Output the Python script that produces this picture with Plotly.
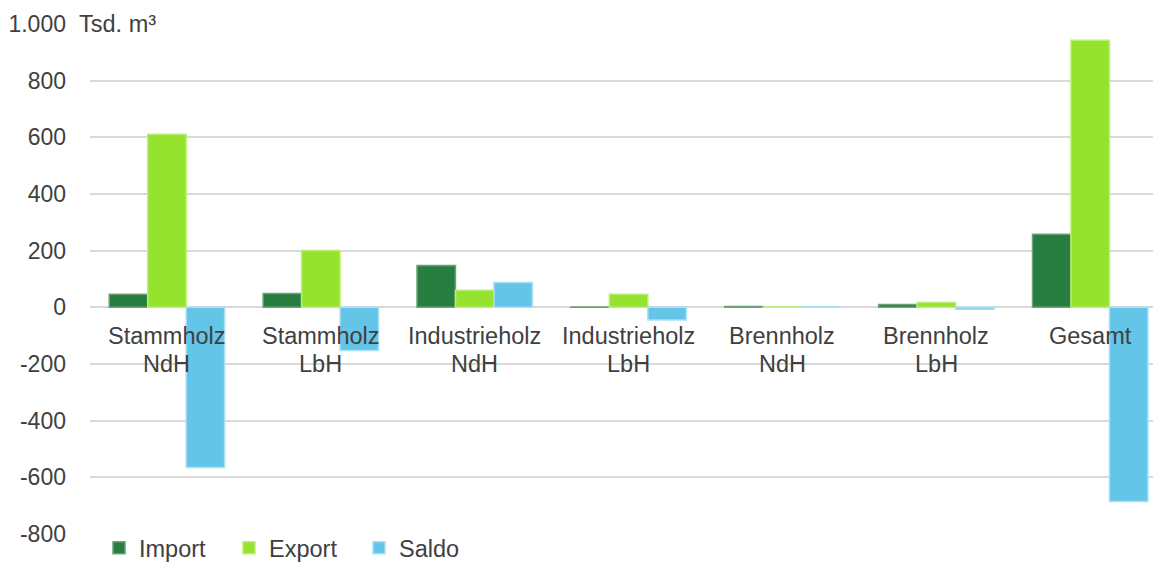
import plotly.graph_objects as go

categories = [("Stammholz", "NdH"), ("Stammholz", "LbH"), ("Industrieholz", "NdH"),
              ("Industrieholz", "LbH"), ("Brennholz", "NdH"), ("Brennholz", "LbH"), ("Gesamt", "")]
import_vals = [46, 49, 148, 1, 3, 10, 258]
export_vals = [611, 201, 60, 46, 1, 17, 943]
saldo_vals = [-565, -152, 88, -45, 2, -7, -685]
y_ticks = [-800, -600, -400, -200, 0, 200, 400, 600, 800, 1000]
y_labels = ["-800", "-600", "-400", "-200", "0", "200", "400", "600", "800", "1.000"]

FONT = "Liberation Sans, Arial, sans-serif"
TXT = "#404040"
FS = 23.5

x_idx = list(range(len(categories)))

fig = go.Figure()
series = [
    ("Import", import_vals, "#287d40", "#6aa37a"),
    ("Export", export_vals, "#95e22f", "#b9ef75"),
    ("Saldo", saldo_vals, "#63c5e8", "#a9e0f4"),
]
for name, vals, col, edge in series:
    fig.add_trace(go.Bar(
        x=x_idx, y=vals, name=name,
        marker=dict(color=col, line=dict(color=edge, width=1.5)),
    ))

# category labels sit just below the zero line, two lines each
for i, (top, bottom) in enumerate(categories):
    fig.add_annotation(x=i, y=0, xref="x", yref="y", text=top, showarrow=False,
                       yanchor="top", yshift=-14, font=dict(size=FS, color=TXT, family=FONT))
    if bottom:
        fig.add_annotation(x=i, y=0, xref="x", yref="y", text=bottom, showarrow=False,
                           yanchor="top", yshift=-41.5, font=dict(size=FS, color=TXT, family=FONT))

fig.add_annotation(x=0, y=1, xref="x domain", yref="y domain", text="Tsd. m³", showarrow=False,
                   xanchor="left", yanchor="middle", xshift=-13,
                   font=dict(size=FS, color=TXT, family=FONT))

# page body has an 8px margin, so the figure is 8px smaller and everything shifted by it
W, H = 1153, 555
TOP = 16
PH = H - TOP
fig.update_layout(
    width=W, height=H,
    barmode="group", bargap=0.25, bargroupgap=0,
    plot_bgcolor="white", paper_bgcolor="white",
    font=dict(family=FONT, size=FS, color=TXT),
    margin=dict(t=TOP, l=82, r=0, b=0, autoexpand=False),
    xaxis=dict(range=[-0.5, 6.46], showticklabels=False, showgrid=False,
               zeroline=False, showline=False, automargin=False),
    yaxis=dict(range=[-800, 1000], tickvals=y_ticks, ticktext=y_labels,
               domain=[29 / PH, 1], automargin=False,
               showgrid=True, gridcolor="#d9d9d9", gridwidth=1.5,
               zeroline=True, zerolinecolor="#d9d9d9", zerolinewidth=1.5,
               showline=False, ticklabelstandoff=23,
               tickfont=dict(size=23, color=TXT, family=FONT)),
    legend=dict(orientation="h", x=9 / (W - 82), xanchor="left", y=15 / PH, yanchor="middle",
                font=dict(size=FS, color=TXT, family=FONT),
                entrywidth=85, entrywidthmode="pixels", bgcolor="rgba(0,0,0,0)"),
)

fig.write_html("out.html")
